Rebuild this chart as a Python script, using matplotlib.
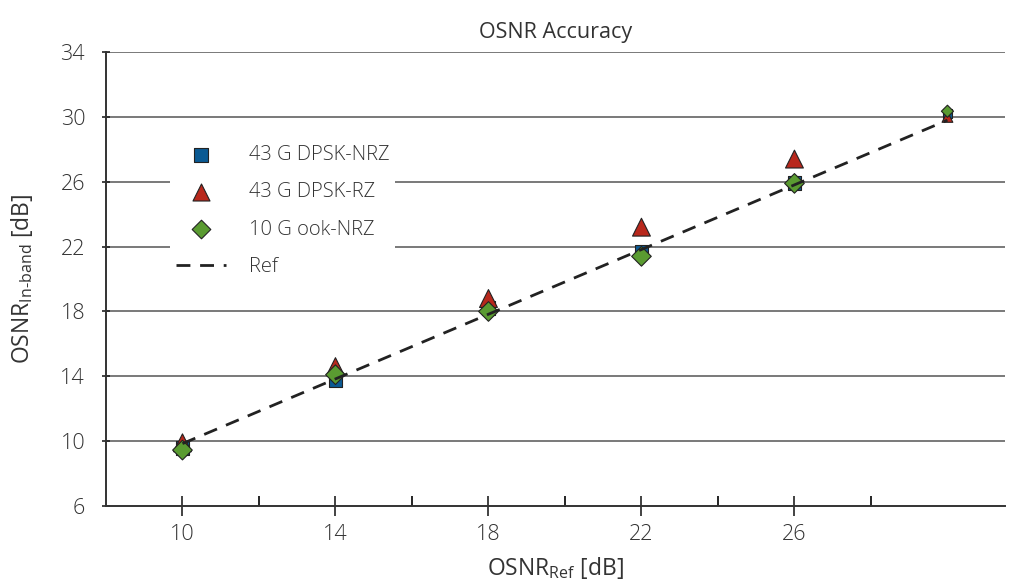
import matplotlib
matplotlib.use("Agg")
import matplotlib.pyplot as plt

plt.rcParams['font.family'] = ['Open Sans', 'DejaVu Sans']
plt.rcParams['font.weight'] = 'light'
plt.rcParams['mathtext.default'] = 'regular'

# data
x_vals = [10, 14, 18, 22, 26, 30]
nrz43 = [9.6, 13.8, 18.2, 21.7, 25.9, 30.2]
rz43 = [9.9, 14.6, 18.8, 23.2, 27.4, 30.0]
ook10 = [9.45, 14.1, 18.0, 21.4, 25.9, 30.35]
ref_x = [10, 30]
ref_y = [9.85, 29.8]
x_ticks = [10, 14, 18, 22, 26]
y_ticks = [6, 10, 14, 18, 22, 26, 30, 34]

txt = '#333333'
fig = plt.figure(figsize=(10.16, 5.85), dpi=100)
ax = fig.add_axes([0.1043, 0.135, 0.8847, 0.776])

for y in y_ticks[1:]:
    ax.axhline(y, color='#555555', lw=1.1, zorder=1)

sizes = [100, 100, 100, 100, 100, 38]
tri_sizes = [165, 165, 165, 165, 165, 60]
ax.scatter(x_vals, nrz43, marker='s', s=sizes, color='#0b5a93', edgecolor='#222222', lw=0.8, zorder=3)
ax.scatter(x_vals, rz43, marker='^', s=tri_sizes, color='#b8281c', edgecolor='#222222', lw=0.8, zorder=4)
ax.scatter(x_vals, ook10, marker='D', s=sizes, color='#5a9b31', edgecolor='#222222', lw=0.8, zorder=5)
ax.plot(ref_x, ref_y, ls=(0, (5, 3.5)), color='#222222', lw=2, zorder=6)

# legend handles
h1 = ax.scatter([], [], marker='s', s=90, color='#0b5a93', edgecolor='#222222', lw=0.8)
h2 = ax.scatter([], [], marker='^', s=150, color='#b8281c', edgecolor='#222222', lw=0.8)
h3 = ax.scatter([], [], marker='D', s=90, color='#5a9b31', edgecolor='#222222', lw=0.8)
h4, = ax.plot([], [], ls=(0, (5, 3.5)), color='#222222', lw=2)
leg = ax.legend([h1, h2, h3, h4], ['43 G DPSK-NRZ', '43 G DPSK-RZ', '10 G ook-NRZ', 'Ref'],
                loc='upper left', bbox_to_anchor=(0.06, 0.83), frameon=True, fancybox=False,
                edgecolor='none', facecolor='white', framealpha=1, fontsize=14.5,
                labelcolor=txt, handlelength=2.5, handletextpad=1.1, labelspacing=0.85,
                borderpad=0.3)
leg.set_zorder(7)

ax.set_xlim(8, 31.5)
ax.set_ylim(6, 34)
ax.set_xticks(x_ticks)
ax.set_xticks([12, 16, 20, 24, 28], minor=True)
ax.set_yticks(y_ticks)
ax.tick_params(axis='both', labelsize=15.5, labelcolor=txt, color='#222222')
ax.tick_params(axis='x', which='major', direction='inout', length=14, width=1.2, pad=6)
ax.tick_params(axis='x', which='minor', direction='in', length=7, width=1.2)
ax.tick_params(axis='y', direction='inout', length=6, width=1.2, pad=12)

for s in ['top', 'right']:
    ax.spines[s].set_visible(False)
for s in ['left', 'bottom']:
    ax.spines[s].set_color('#333333')
    ax.spines[s].set_linewidth(1.4)

ax.set_title('OSNR Accuracy', fontsize=15.5, color=txt, pad=10)
ax.set_xlabel('OSNR$_{Ref}$ [dB]', fontsize=16.5, color=txt, labelpad=7)
ax.set_ylabel('OSNR$_{In\u2010band}$ [dB]', fontsize=16.5, color=txt, labelpad=18)

fig.savefig('out.png', dpi=100)
